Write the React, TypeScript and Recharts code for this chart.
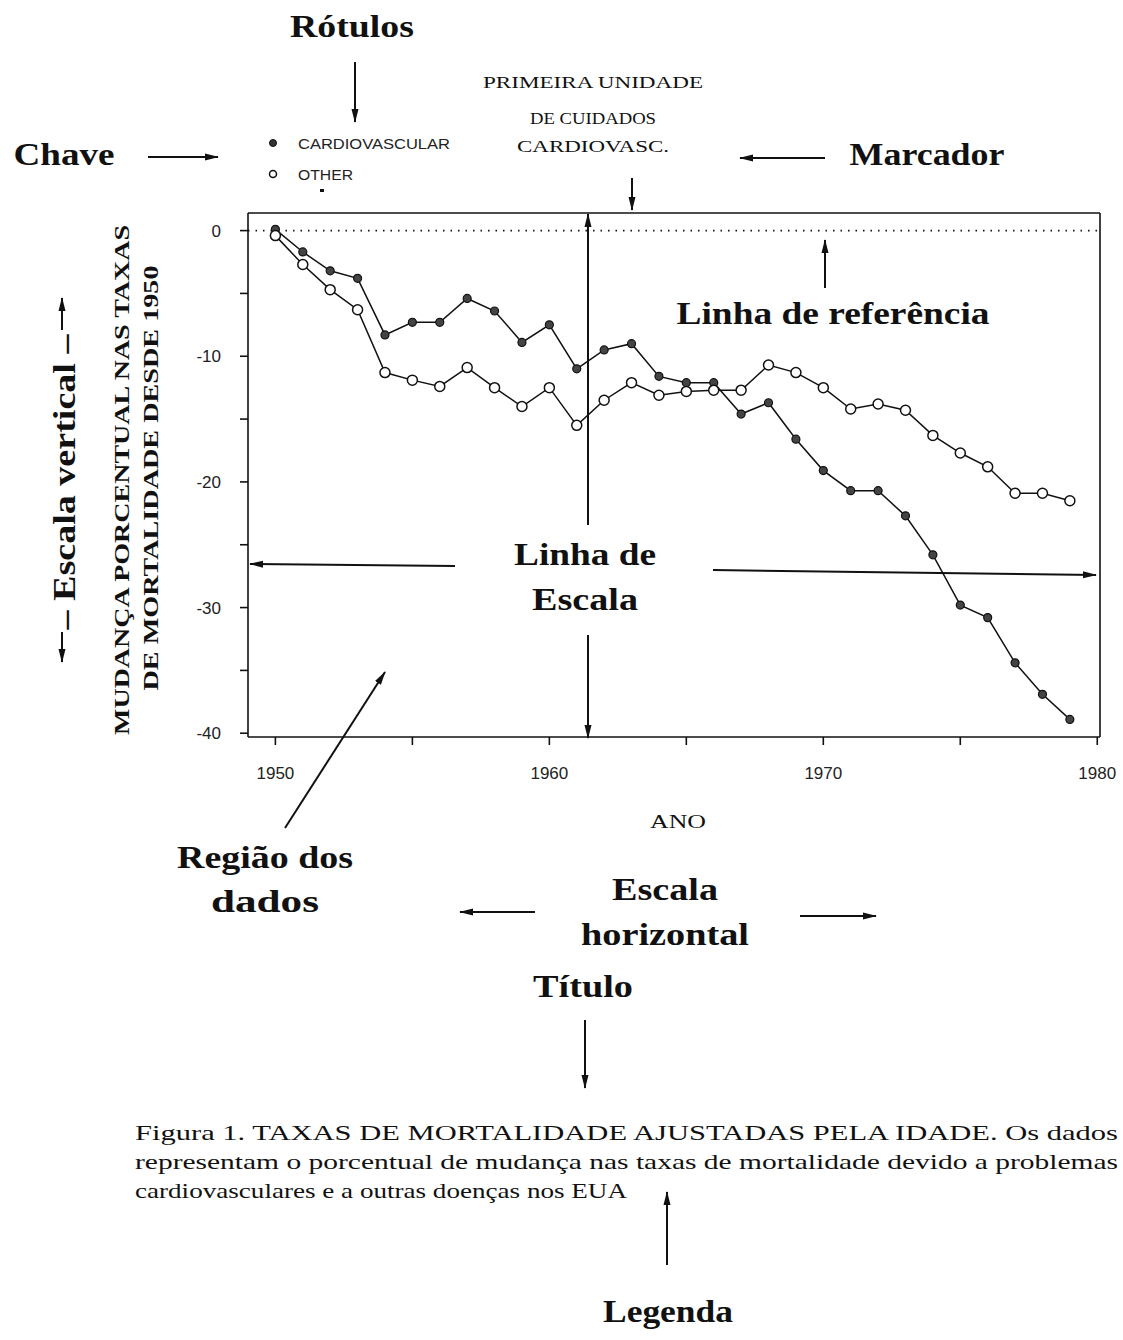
import React from "react";
import {
  LineChart,
  Line,
  XAxis,
  YAxis,
  ReferenceLine,
} from "recharts";

const years = [
  1950, 1951, 1952, 1953, 1954, 1955, 1956, 1957, 1958, 1959,
  1960, 1961, 1962, 1963, 1964, 1965, 1966, 1967, 1968, 1969,
  1970, 1971, 1972, 1973, 1974, 1975, 1976, 1977, 1978, 1979,
];
const cardiovascular = [
  0.1, -1.7, -3.2, -3.8, -8.3, -7.3, -7.3, -5.4, -6.4, -8.9,
  -7.5, -11.0, -9.5, -9.0, -11.6, -12.1, -12.1, -14.6, -13.7, -16.6,
  -19.1, -20.7, -20.7, -22.7, -25.8, -29.8, -30.8, -34.4, -36.9, -38.9,
];
const other = [
  -0.4, -2.7, -4.7, -6.3, -11.3, -11.9, -12.4, -10.9, -12.5, -14.0,
  -12.5, -15.5, -13.5, -12.1, -13.1, -12.8, -12.7, -12.7, -10.7, -11.3,
  -12.5, -14.2, -13.8, -14.3, -16.3, -17.7, -18.8, -20.9, -20.9, -21.5,
];
const xTicks = [1950, 1955, 1960, 1965, 1970, 1975, 1980];
const yTicks = [-40, -35, -30, -25, -20, -15, -10, -5, 0];

const captionLines = [
  "Figura 1. TAXAS DE MORTALIDADE AJUSTADAS PELA IDADE. Os dados",
  "representam o porcentual de mudança nas taxas de mortalidade devido a problemas",
  "cardiovasculares e a outras doenças nos EUA",
];

const data = years.map((y, i) => ({
  year: y,
  cardiovascular: cardiovascular[i],
  other: other[i],
}));

const SERIF = "'Liberation Serif', 'DejaVu Serif', serif";
const SANS = "'Liberation Sans', Arial, sans-serif";
const INK = "#111";

function T({ x, y, size = 32, bold = true, anchor = "middle", w, rot, children }: any) {
  return (
    <text
      x={x}
      y={y}
      fontFamily={SERIF}
      fontSize={size}
      fontWeight={bold ? 700 : 400}
      textAnchor={anchor}
      fill={INK}
      textLength={w}
      lengthAdjust="spacingAndGlyphs"
      transform={rot ? `rotate(${rot} ${x} ${y})` : undefined}
    >
      {children}
    </text>
  );
}

function Arrow({ x1, y1, x2, y2 }: any) {
  return (
    <line x1={x1} y1={y1} x2={x2} y2={y2} stroke={INK} strokeWidth={2} markerEnd="url(#ah)" />
  );
}

function Annotations() {
  return (
    <svg
      width={1123}
      height={1340}
      style={{ position: "absolute", left: 0, top: 0, pointerEvents: "none" }}
    >
      <defs>
        <marker id="ah" markerUnits="userSpaceOnUse" markerWidth={14} markerHeight={8} refX={13} refY={4} orient="auto">
          <path d="M0,0.5 L14,4 L0,7.5 z" fill={INK} />
        </marker>
      </defs>

      {/* key */}
      <circle cx={273} cy={143} r={3.5} fill="#333" stroke={INK} />
      <text x={298} y={149} fontFamily={SANS} fontSize={14} fill="#222" textLength={152} lengthAdjust="spacingAndGlyphs">CARDIOVASCULAR</text>
      <circle cx={273} cy={174} r={3.5} fill="#fff" stroke={INK} strokeWidth={1.5} />
      <text x={298} y={180} fontFamily={SANS} fontSize={14} fill="#222" textLength={55} lengthAdjust="spacingAndGlyphs">OTHER</text>
      <rect x={320} y={189} width={4} height={3} fill={INK} />

      <T x={352} y={37} w={124}>Rótulos</T>
      <Arrow x1={355} y1={62} x2={355} y2={122} />

      <T x={64} y={165} w={101}>Chave</T>
      <Arrow x1={148} y1={157} x2={218} y2={157} />

      <T x={927} y={165} w={155}>Marcador</T>
      <Arrow x1={825} y1={158} x2={740} y2={158} />

      <T x={593} y={88} size={17} bold={false} w={220}>PRIMEIRA UNIDADE</T>
      <T x={593} y={124} size={17} bold={false} w={126}>DE CUIDADOS</T>
      <T x={593} y={152} size={17} bold={false} w={152}>CARDIOVASC.</T>
      <Arrow x1={632} y1={178} x2={632} y2={210} />

      <T x={833} y={324} w={313}>Linha de referência</T>
      <Arrow x1={825} y1={288} x2={825} y2={240} />

      <Arrow x1={588} y1={525} x2={588} y2={214} />
      <Arrow x1={588} y1={635} x2={588} y2={738} />
      <T x={585} y={565} w={142}>Linha de</T>
      <T x={585} y={610} w={106}>Escala</T>
      <Arrow x1={455} y1={566} x2={250} y2={564} />
      <Arrow x1={713} y1={570} x2={1096} y2={575} />

      <T x={75} y={482} rot={-90} w={295}>– Escala vertical –</T>
      <Arrow x1={62} y1={330} x2={62} y2={298} />
      <Arrow x1={62} y1={632} x2={62} y2={662} />

      <T x={129} y={480} rot={-90} size={20} w={510}>MUDANÇA PORCENTUAL NAS TAXAS</T>
      <T x={158} y={478} rot={-90} size={20} w={425}>DE MORTALIDADE DESDE 1950</T>

      <T x={678} y={828} size={19} bold={false} w={56}>ANO</T>

      <T x={265} y={868} w={176}>Região dos</T>
      <T x={265} y={912} w={108}>dados</T>
      <Arrow x1={285} y1={828} x2={385} y2={672} />

      <T x={665} y={900} w={106}>Escala</T>
      <T x={665} y={945} w={168}>horizontal</T>
      <Arrow x1={535} y1={912} x2={460} y2={912} />
      <Arrow x1={800} y1={916} x2={876} y2={916} />

      <T x={583} y={997} w={100}>Título</T>
      <Arrow x1={585} y1={1020} x2={585} y2={1088} />

      {captionLines.map((line, i) => (
        <T
          key={i}
          x={135}
          y={1140 + i * 29}
          size={21}
          bold={false}
          anchor="start"
          w={i < 2 ? 983 : 492}
        >
          {line}
        </T>
      ))}

      <Arrow x1={667} y1={1265} x2={667} y2={1192} />
      <T x={668} y={1322} w={130}>Legenda</T>
    </svg>
  );
}

const tickStyle = { fontFamily: SANS, fontSize: 17, fill: "#222" };

export default function App() {
  return (
    <div style={{ position: "relative", width: 1123, height: 1340, overflow: "hidden", background: "#fff" }}>
      <style>{"body{margin:0}"}</style>
      <div style={{ position: "absolute", left: 0, top: 0 }}>
        <LineChart
          width={1123}
          height={800}
          data={data}
          margin={{ top: 203, right: 11, bottom: 13, left: 188 }}
        >
          <XAxis
            xAxisId="bottom"
            dataKey="year"
            type="number"
            domain={[1949, 1980.1]}
            ticks={xTicks}
            tickFormatter={(v: number) => (v % 10 === 0 ? String(v) : "")}
            allowDataOverflow
            height={50}
            tickSize={8}
            tickMargin={22}
            tick={tickStyle}
            stroke={INK}
            strokeWidth={1.6}
          />
          <XAxis
            xAxisId="top"
            orientation="top"
            dataKey="year"
            type="number"
            domain={[1949, 1980.1]}
            ticks={xTicks}
            allowDataOverflow
            height={10}
            tickSize={8}
            tick={false}
            stroke={INK}
            strokeWidth={1.6}
          />
          <YAxis
            yAxisId="left"
            type="number"
            domain={[-40.3, 1.4]}
            ticks={yTicks}
            tickFormatter={(v: number) => (v % 10 === 0 ? String(v) : "")}
            allowDataOverflow
            width={60}
            tickSize={8}
            tickMargin={19}
            tick={tickStyle}
            stroke={INK}
            strokeWidth={1.6}
          />
          <YAxis
            yAxisId="right"
            orientation="right"
            type="number"
            domain={[-40.3, 1.4]}
            ticks={yTicks}
            allowDataOverflow
            width={12}
            tickSize={8}
            tick={false}
            stroke={INK}
            strokeWidth={1.6}
          />
          <ReferenceLine
            xAxisId="bottom"
            yAxisId="left"
            y={0}
            stroke={INK}
            strokeWidth={1.6}
            strokeDasharray="1.5 6"
          />
          <Line
            xAxisId="bottom"
            yAxisId="left"
            dataKey="cardiovascular"
            type="linear"
            stroke={INK}
            strokeWidth={1.5}
            dot={{ r: 4, fill: "#444", stroke: INK, strokeWidth: 1.2 }}
            isAnimationActive={false}
          />
          <Line
            xAxisId="bottom"
            yAxisId="left"
            dataKey="other"
            type="linear"
            stroke={INK}
            strokeWidth={1.5}
            dot={{ r: 5, fill: "#fff", stroke: INK, strokeWidth: 1.5 }}
            isAnimationActive={false}
          />
        </LineChart>
      </div>
      <Annotations />
    </div>
  );
}
